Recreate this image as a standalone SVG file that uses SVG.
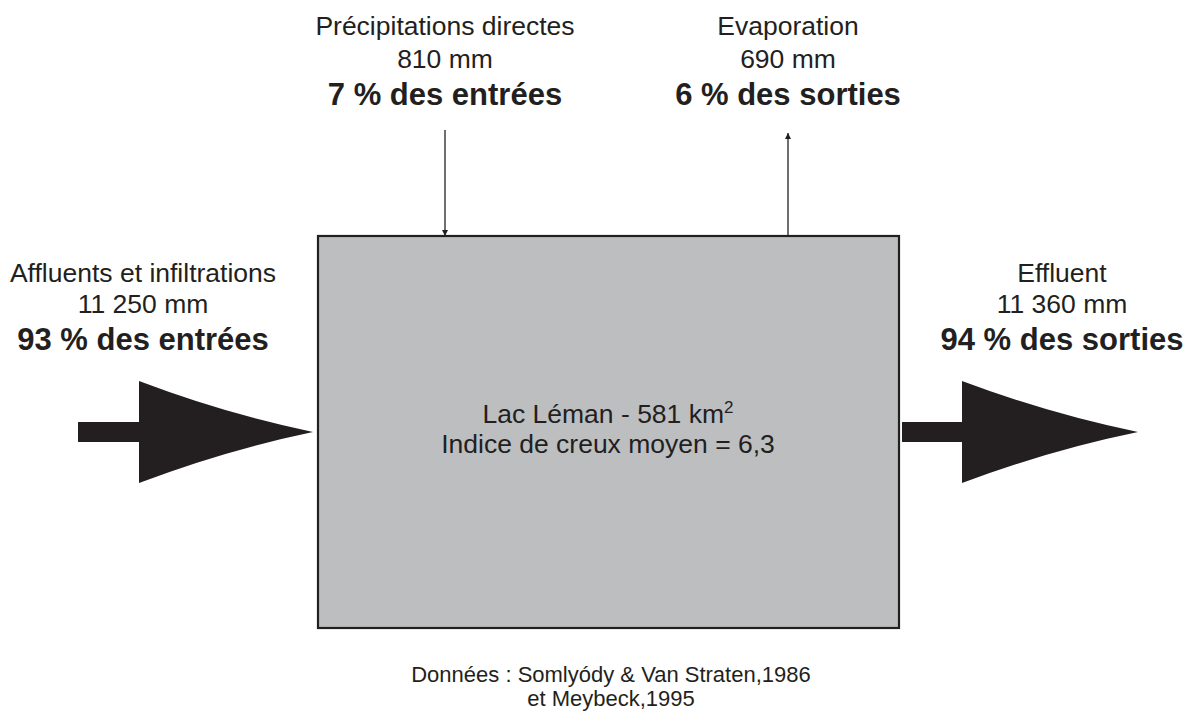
<svg xmlns="http://www.w3.org/2000/svg" width="1186" height="711" viewBox="0 0 1186 711">
<defs>
<style>
.t{font-family:"Liberation Sans",Arial,sans-serif;font-size:26.5px;fill:#231f20;text-anchor:middle}
.b{font-family:"Liberation Sans",Arial,sans-serif;font-size:31px;font-weight:bold;fill:#231f20;text-anchor:middle}
.s{font-family:"Liberation Sans",Arial,sans-serif;font-size:22px;fill:#231f20;text-anchor:middle}
.thin{stroke:#231f20;stroke-width:1.3;fill:none}
.big{fill:#231f20}
</style>
<marker id="ah" viewBox="0 0 10 10" refX="10" refY="5" markerWidth="6" markerHeight="8" markerUnits="userSpaceOnUse" orient="auto">
<path d="M0,0 L10,5 L0,10 Z" fill="#231f20"/>
</marker>
</defs>
<rect width="1186" height="711" fill="#ffffff"/>
<g id="lake">
<rect x="318" y="236" width="581" height="392" fill="#bcbec0" stroke="#231f20" stroke-width="2.2"/>
<text class="t" x="608" y="423">Lac Léman - 581 km<tspan dy="-10" font-size="17">2</tspan></text>
<text class="t" x="608" y="453">Indice de creux moyen = 6,3</text>
</g>
<g id="precip">
<text class="t" x="445" y="35">Précipitations directes</text>
<text class="t" x="445" y="68">810 mm</text>
<text class="b" x="445" y="105">7 % des entrées</text>
</g>
<g id="evap">
<text class="t" x="788" y="35">Evaporation</text>
<text class="t" x="788" y="68">690 mm</text>
<text class="b" x="788" y="105">6 % des sorties</text>
</g>
<g id="affluents">
<text class="t" x="143" y="282">Affluents et infiltrations</text>
<text class="t" x="143" y="313">11 250 mm</text>
<text class="b" x="143" y="350">93 % des entrées</text>
</g>
<g id="effluent">
<text class="t" x="1062" y="282">Effluent</text>
<text class="t" x="1062" y="313">11 360 mm</text>
<text class="b" x="1062" y="350">94 % des sorties</text>
</g>
<g id="source">
<text class="s" x="611" y="682">Données : Somlyódy &amp; Van Straten,1986</text>
<text class="s" x="611" y="706">et Meybeck,1995</text>
</g>
<g id="connectors">
<line class="thin" x1="445" y1="130" x2="445" y2="236" marker-end="url(#ah)"/>
<line class="thin" x1="788" y1="236" x2="788" y2="133" marker-end="url(#ah)"/>
<path class="big" d="M78,422 H139 V381 Q226,414 313,432 Q226,450 139,483 V442 H78 Z"/>
<path class="big" d="M902,422 H962 V381 Q1050,414 1138,432 Q1050,450 962,483 V442 H902 Z"/>
</g>
</svg>
